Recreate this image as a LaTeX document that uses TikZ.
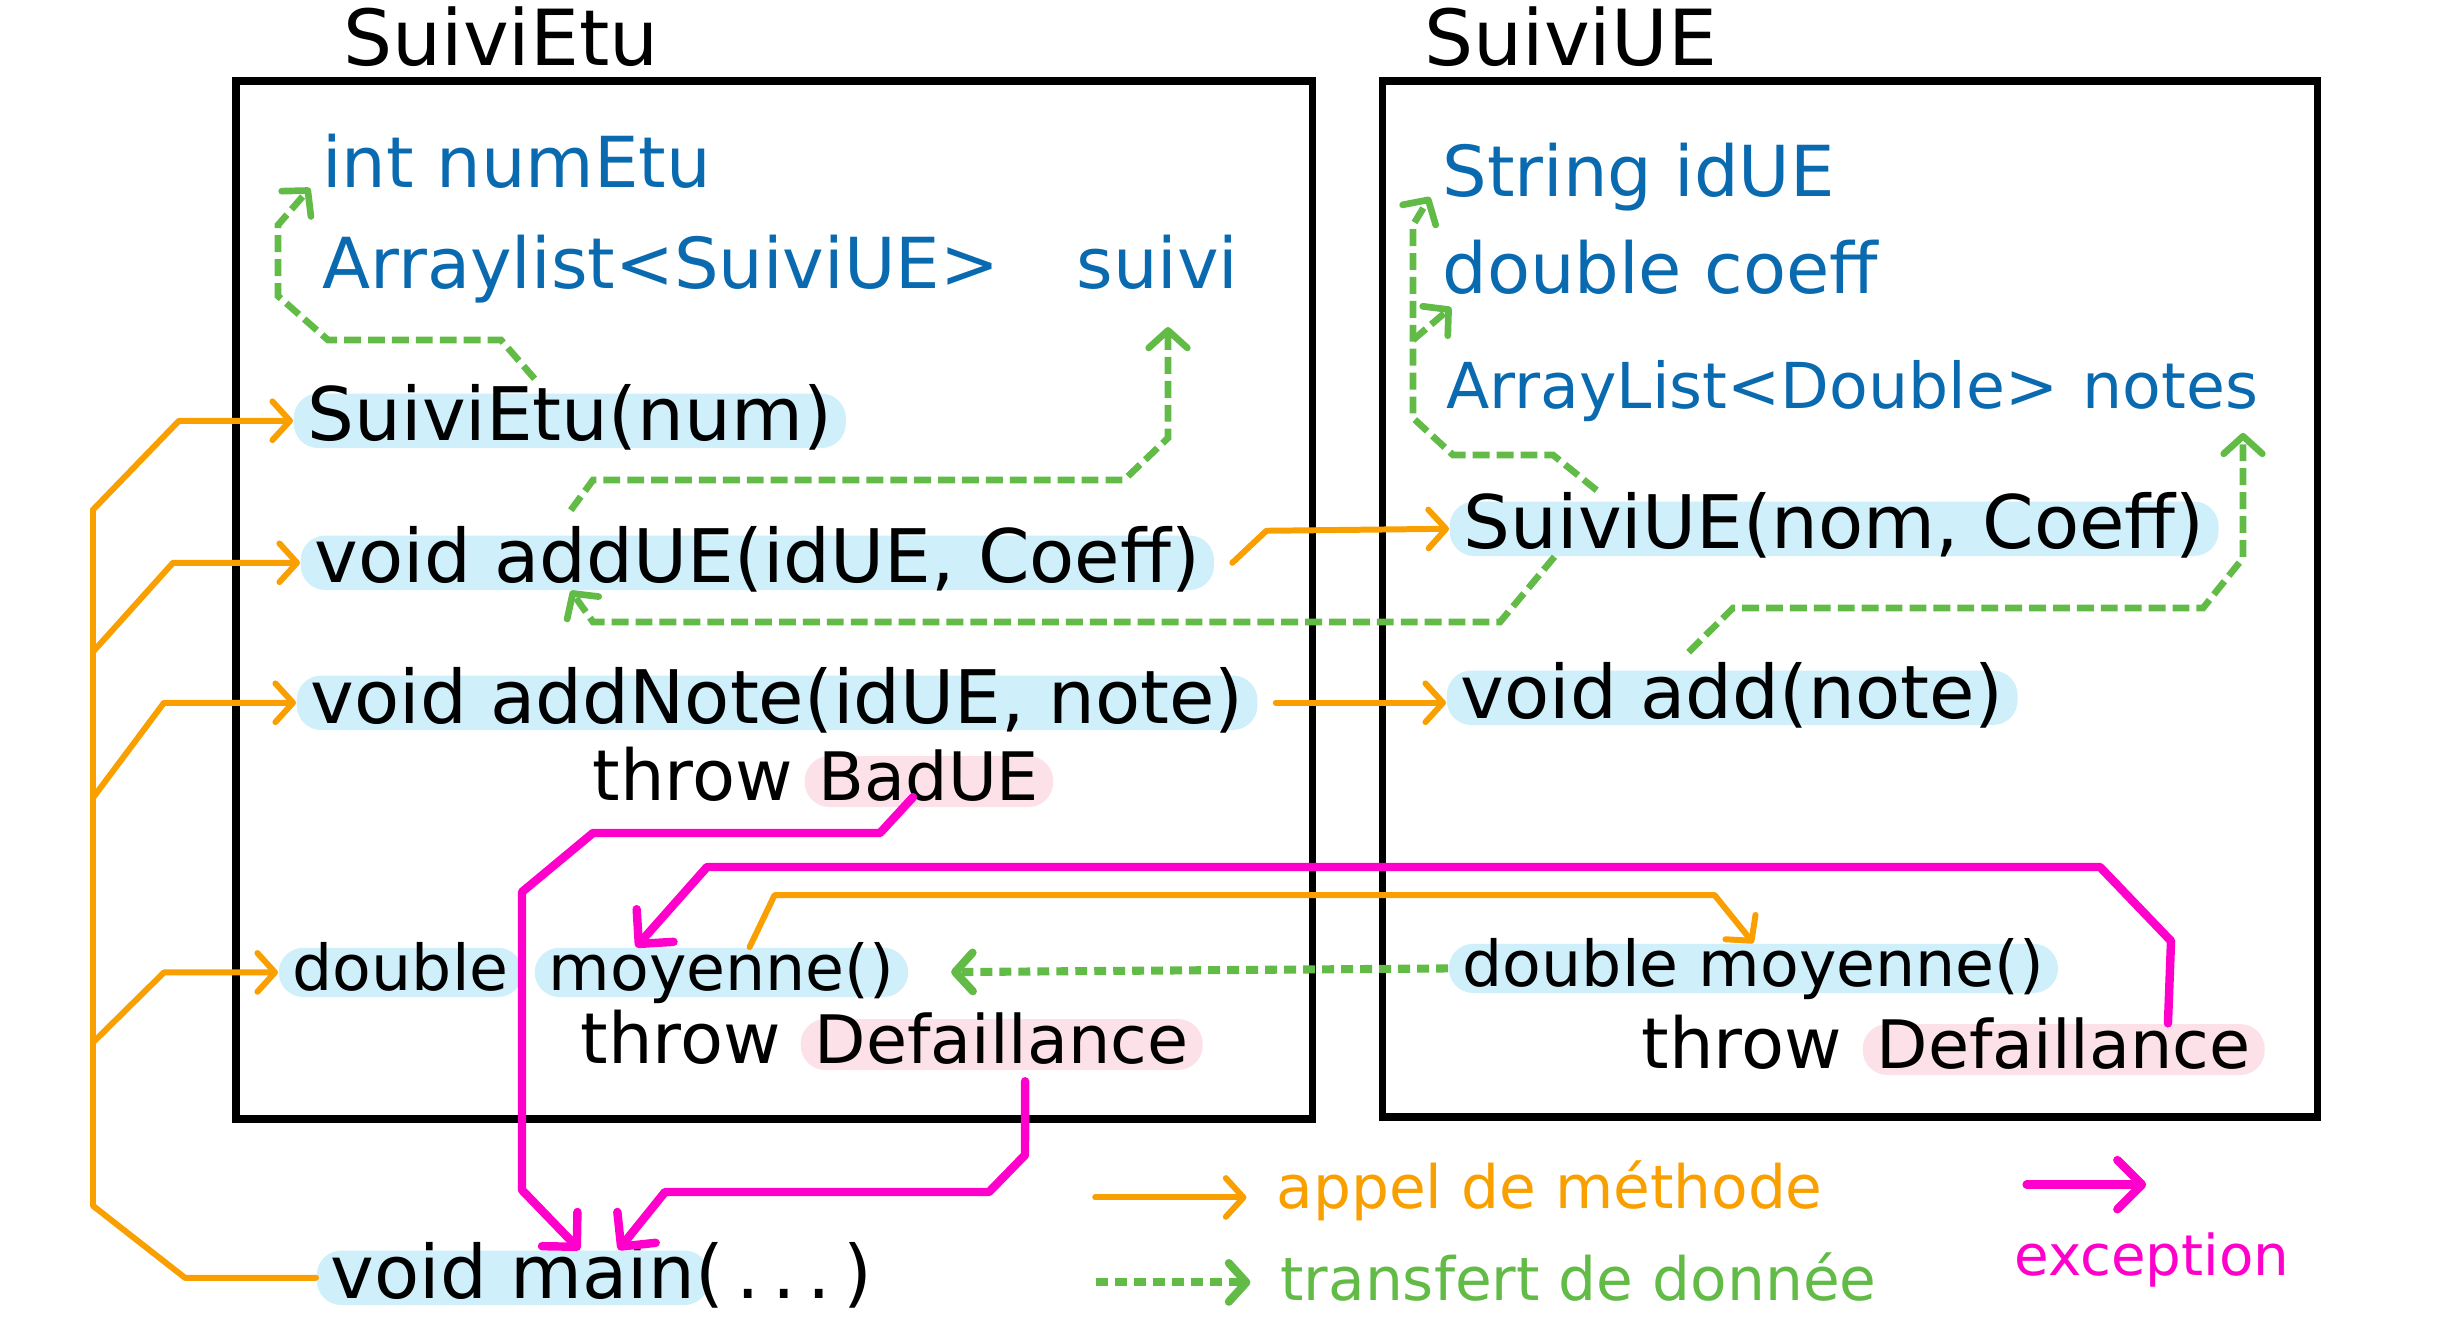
\documentclass[tikz,border=0pt]{standalone}
\usepackage{fontspec}
\setmainfont{DejaVu Sans}
\usetikzlibrary{arrows.meta,positioning}

\definecolor{orangeappel}{HTML}{F9A000}
\definecolor{vertdonnee}{HTML}{62BB46}
\definecolor{magentaexc}{HTML}{FF00CC}
\definecolor{bleuattr}{HTML}{0A6AB0}
\definecolor{bleuclair}{HTML}{CFEFFB}
\definecolor{roseclair}{HTML}{FCE1E8}

\newcommand{\ftitre}{\fontsize{22}{26}\selectfont}
\newcommand{\fgrand}{\fontsize{21}{25}\selectfont}
\newcommand{\fmoyen}{\fontsize{20}{24}\selectfont}
\newcommand{\fexc}{\fontsize{19}{23}\selectfont}
\newcommand{\fpetit}{\fontsize{18}{22}\selectfont}
\newcommand{\fleg}{\fontsize{17}{20}\selectfont}

\tikzset{
	boite/.style={draw, line width=2pt},
	titre/.style={anchor=base west, font=\ftitre},
	attribut/.style={anchor=base west, text=bleuattr, font=\fmoyen},
	texte/.style={anchor=base west, font=\fmoyen},
	methode/.style={anchor=base west, font=\fgrand, fill=bleuclair, rounded corners=7pt,
		text height=11.5pt, text depth=0pt, inner xsep=4pt, inner ysep=2pt},
	levee/.style={methode, fill=roseclair, font=\fexc, text height=10.5pt},
	legende/.style={anchor=base west, font=\fleg},
	appel/.style={draw=orangeappel, line width=1.7pt, line cap=round, line join=round,
		>={Straight Barb[length=5pt,width=11pt,round]}, ->},
	donnee/.style={draw=vertdonnee, line width=1.9pt, line cap=butt, dash pattern=on 4.8pt off 2pt,
		>={Straight Barb[length=5pt,width=11pt,round]}, ->},
	donneepts/.style={donnee, line width=2.3pt, dash pattern=on 3.4pt off 2pt},
	exception/.style={draw=magentaexc, line width=2.4pt, line cap=round, line join=round,
		>={Straight Barb[length=7pt,width=14pt,round]}, ->}
}

\begin{document}
\begin{tikzpicture}[x=0.01cm, y=-0.01cm]
\useasboundingbox (0,0) rectangle (2446,1340);

% Classe SuiviEtu
\node[titre] (titreEtu) at (331,66) {SuiviEtu};
\draw[boite] (236,81) rectangle (1312,1119);

\node[attribut] (numEtu) at (310,188) {int numEtu};
\node[attribut] (typeSuivi) at (310,289) {Arraylist<SuiviUE>};
\node[attribut, base right=15pt of typeSuivi] (suivi) {suivi};

\node[methode] (suiviEtu) at (293,441) {SuiviEtu(num)};
\node[methode] (addUE) at (300,583) {void addUE(idUE, Coeff)};
\node[methode] (addNote) at (296,723) {void addNote(idUE, note)};
\node[texte] (throwBad) at (580,800) {throw};
\node[levee] (badUE) at (804,800) {BadUE};
\node[methode, font=\fpetit, text height=10pt] (doubleEtu) at (278,990) {double};
\node[methode, font=\fpetit, text height=10pt] (moyEtu) at (534,990) {moyenne()};
\node[texte] (throwDef1) at (568,1063) {throw};
\node[levee] (def1) at (800,1063) {Defaillance};

% Classe SuiviUE
\node[titre] (titreUE) at (1412,66) {SuiviUE};
\draw[boite] (1382,81) rectangle (2317,1117);

\node[attribut] (idUE) at (1430,197) {String idUE};
\node[attribut] (coeff) at (1430,294) {double coeff};
\node[attribut, font=\fpetit] (typeNotes) at (1434,409) {ArrayList<Double>};
\node[attribut, font=\fpetit, base right=0pt of typeNotes] (notes) {notes};

\node[methode] (ctorUE) at (1449,549) {SuiviUE(nom, Coeff)};
\node[methode] (add) at (1446,718) {void add(note)};
\node[methode, font=\fpetit, text height=10pt] (moyUE) at (1448,986) {double moyenne()};
\node[texte] (throwDef2) at (1629,1068) {throw};
\node[levee] (def2) at (1862,1068) {Defaillance};

% Programme principal
\node[methode] (main) at (316,1298) {void main\rlap{(\,.\,.\,.\,)}};

% Appels de methode
\draw[appel,-] (main.west) -- ++(-131,0) -- ++(-92,-72) -- (93,510);
\foreach \cible/\w/\dx/\dy in {suiviEtu/114/86/89, addUE/127/80/89, addNote/132/71/95, doubleEtu/114/71/70}
	\draw[appel,<-] (\cible.west) -- ++(-\w,0) -- ++(-\dx,\dy);

\draw[appel] ([xshift=5pt]addUE.east) -- ++(34,-32) -- (ctorUE.west);
\draw[appel] ([xshift=5pt]addNote.east) -- (addNote.east -| add.west);
\draw[appel] ([xshift=8pt]moyEtu.north) -- ++(25,-52) -- ++(940,0) -- (moyUE.north);

% Transferts de donnees
\coordinate (coudeSuivi) at (1168,438);
\coordinate (coudeNotes) at (2243,558);
\coordinate (embranchement) at (1413,340);

\draw[donnee] ([xshift=-10pt,yshift=4pt]suiviEtu.north) -- (501,340) -- (328,340)
	-- (278,296) -- (278,225) -- (numEtu.base west);
\draw[donnee, shorten >=7pt] ([xshift=77pt,yshift=7pt]addUE.north west) -- (593,480) -- (1124,480)
	-- (coudeSuivi) -- (coudeSuivi |- suivi.south);
\draw[donnee] ([xshift=30pt]ctorUE.south west) -- (1500,622) -- (593,622)
	-- ([xshift=77pt]addUE.south west);
\draw[donnee] ([xshift=42pt,yshift=3pt]ctorUE.north west) -- (1553,455) -- (1453,455)
	-- (1413,418) -- (1413,225) -- (idUE.base west);
\draw[donnee] (embranchement) -- ([xshift=6pt]coeff.south west);
\draw[donnee, shorten >=3pt] ([xshift=69pt,yshift=5pt]add.north west) -- (1733,608) -- (2203,608)
	-- (coudeNotes) -- (coudeNotes |- notes.south);
\draw[donneepts, shorten >=12pt] (moyUE.west) -- (moyEtu.east);

% Exceptions
\draw[exception] ([xshift=31pt,yshift=3pt]badUE.south west) -- (880,833) -- (593,833)
	-- (522,892) -- (522,1190) -- ([xshift=75pt]main.north west);
\draw[exception] ([xshift=64pt,yshift=-3pt]def1.south west) -- (1025,1155) -- (989,1192)
	-- (665,1192) -- ([xshift=86pt]main.north west);
\draw[exception] ([xshift=87pt]def2.north west) -- (2171,941) -- (2100,867)
	-- (707,867) -- ([xshift=29pt]moyEtu.north west);

% Legende
\node[legende, text=orangeappel] (legAppel) at (1264,1208) {appel de méthode};
\node[legende, text=vertdonnee] (legDonnee) at (1268,1300) {transfert de donnée};
\node[legende, text=magentaexc, font=\fontsize{16}{19}\selectfont] (legExc) at (2002,1275) {exception};

\draw[appel, shorten >=5pt] ([xshift=-48pt,yshift=3pt]legAppel.base west) -- ([yshift=3pt]legAppel.base west);
\draw[donneepts, shorten >=5pt] ([xshift=-49pt,yshift=5pt]legDonnee.base west) -- ([yshift=5pt]legDonnee.base west);
\draw[exception] ([xshift=7pt,yshift=10pt]legExc.north west) -- ([xshift=41pt,yshift=10pt]legExc.north west);
\end{tikzpicture}
\end{document}
